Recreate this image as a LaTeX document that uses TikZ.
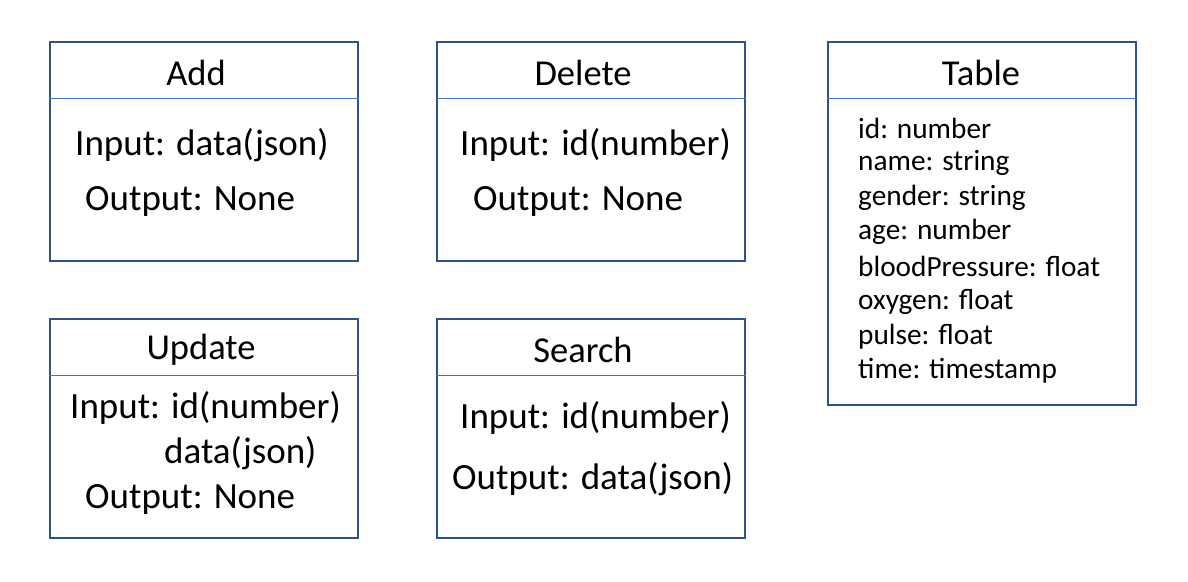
\documentclass[tikz,border=0pt]{standalone}
\usepackage{fontspec}
\setmainfont{Carlito}
\usetikzlibrary{positioning}

\begin{document}
\begin{tikzpicture}[
    x=1pt, y=-1pt,
    % --- Styles ---
    opbox/.style={
        rectangle, draw=box_border, line width=1.6pt,
        minimum width=308pt, minimum height=219pt,
        anchor=north west, inner sep=0pt
    },
    tablebox/.style={opbox, minimum height=363pt},
    divider/.style={draw=div_line, line width=0.9pt},
    title/.style={font=\fontsize{36.5}{40}\selectfont, inner sep=0pt},
    field/.style={font=\fontsize{37}{40}\selectfont, anchor=west, inner sep=0pt},
    column/.style={font=\fontsize{29.3}{32}\selectfont, anchor=west, inner sep=0pt}
]

    % ── Colour Palette ──────────────────────────────────────────────────
    \definecolor{box_border}{RGB}{47, 82, 143}
    \definecolor{div_line}{RGB}{68, 114, 196}

    \useasboundingbox (0,0) rectangle (1188,581);

    % ── BOXES ───────────────────────────────────────────────────────────
    \node (add)    [opbox]    at (49,41)   {};
    \node (delete) [opbox]    at (436,41)  {};
    \node (update) [opbox]    at (49,318)  {};
    \node (search) [opbox]    at (436,318) {};
    \node (table)  [tablebox] at (827,41)  {};

    % header dividers
    \foreach \b in {add, delete, update, search, table}
        \draw [divider] ([yshift=-57pt]\b.north west) -- ([yshift=-57pt]\b.north east);

    % ── TITLES ──────────────────────────────────────────────────────────
    \node (add_title)    [title] at (196,73)  {Add};
    \node (delete_title) [title] at (583,73)  {Delete};
    \node (update_title) [title] at (201,350) {Update};
    \node (search_title) [title] at (583,350) {Search};
    \node (table_title)  [title] at (981,73)  {Table};

    % ── ADD ─────────────────────────────────────────────────────────────
    \node (add_in)  [field] at (75,145) {Input: data(json)};
    \node (add_out) [field] at (85,201) {Output: None};

    % ── DELETE ──────────────────────────────────────────────────────────
    \node (delete_in)  [field] at (460,145) {Input: id(number)};
    \node (delete_out) [field] at (473,201) {Output: None};

    % ── UPDATE ──────────────────────────────────────────────────────────
    \node (update_in)   [field] at (70,408)  {Input: id(number)};
    \node (update_data) [field] at (164,453) {data(json)};
    \node (update_out)  [field] at (85,499)  {Output: None};

    % ── SEARCH ──────────────────────────────────────────────────────────
    \node (search_in)  [field] at (460,418) {Input: id(number)};
    \node (search_out) [field] at (452,479) {Output: data(json)};

    % ── TABLE COLUMNS ───────────────────────────────────────────────────
    \foreach \txt [count=\i from 0] in {id: number, name: string, gender: string,
            age: number, bloodPressure: float, oxygen: float, pulse: float,
            time: timestamp}
        \node (col\i) [column] at (858,128+34.7*\i) {\txt};

\end{tikzpicture}
\end{document}
